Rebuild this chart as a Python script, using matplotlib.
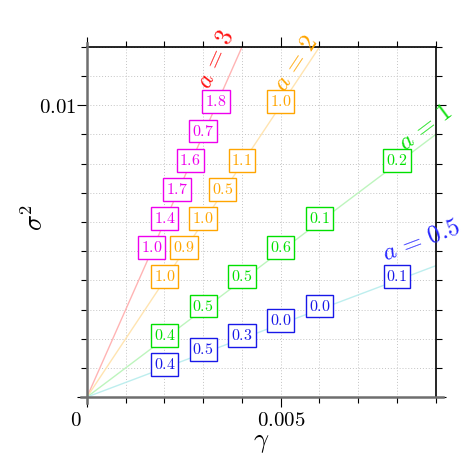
import numpy as np
import matplotlib
matplotlib.use("Agg")
import matplotlib.pyplot as plt
import matplotlib.transforms as mtransforms
from matplotlib.ticker import MultipleLocator, FixedLocator, FixedFormatter
from matplotlib.lines import Line2D

plt.rcParams['mathtext.fontset'] = 'cm'
plt.rcParams['font.family'] = ['DejaVu Serif']

# ---- data ----
a_values = [3, 2, 1, 0.5]
a_label_text = [r'$a\,=\,3$', r'$a\,=\,2$', r'$a\,=\,1$', r'$a\,=\,0.5$']
a_label_pos = [(3.31e-3, 11.58e-3), (5.40e-3, 11.44e-3), (8.73e-3, 9.24e-3), (8.63e-3, 5.36e-3)]

sigma2_a3 = [10e-3, 9e-3, 8e-3, 7e-3, 6e-3, 5e-3]
labels_a3 = ['1.8', '0.7', '1.6', '1.7', '1.4', '1.0']
sigma2_a2 = [10e-3, 8e-3, 7e-3, 6e-3, 5e-3, 4e-3]
labels_a2 = ['1.0', '1.1', '0.5', '1.0', '0.9', '1.0']
sigma2_a1 = [8e-3, 6e-3, 5e-3, 4e-3, 3e-3, 2e-3]
labels_a1 = ['0.2', '0.1', '0.6', '0.5', '0.5', '0.4']
sigma2_a05 = [4e-3, 3e-3, 2.5e-3, 2e-3, 1.5e-3, 1e-3]
labels_a05 = ['0.1', '0.0', '0.0', '0.3', '0.5', '0.4']

x_ticks = [0, 0.005]
x_ticklabels = ['$0$', '$0.005$']
y_ticks = [0, 0.01]
y_ticklabels = ['', '$0.01$']

# ---- style ----
line_colors = ['#ffb4b4', '#ffe4b0', '#bdf5bd', '#bdeeee']
label_colors = ['#ff1010', '#ffa500', '#10e010', '#2828ff']
box_colors = ['#ee00ee', '#ffa500', '#00e000', '#1818e8']

fig = plt.figure(figsize=(4.73, 4.73), dpi=100)
ax = fig.add_axes([87/473, 76/473, 348.7/473, 350/473])
xmax, ymax = 0.009, 0.012
ax.set_xlim(0, xmax)
ax.set_ylim(0, ymax)

# grid
ax.xaxis.set_minor_locator(MultipleLocator(0.001))
ax.yaxis.set_minor_locator(MultipleLocator(0.001))
ax.grid(True, which='both', color='#eeeeee', lw=0.9, ls='-', zorder=0)
ax.grid(True, which='both', color='#c4c4c4', lw=0.7, ls=(0, (1, 2)), zorder=0)

ax.xaxis.set_major_locator(FixedLocator(x_ticks))
ax.xaxis.set_major_formatter(FixedFormatter(x_ticklabels))
ax.yaxis.set_major_locator(FixedLocator(y_ticks))
ax.yaxis.set_major_formatter(FixedFormatter(y_ticklabels))
ax.tick_params(which='both', direction='out', top=True, right=True, labelsize=15)
ax.tick_params(axis='x', pad=3)
ax.tick_params(axis='y', pad=0.5)
ax.tick_params(which='major', length=7, width=0.8)
ax.tick_params(which='minor', length=4, width=0.8)

for s in ['left', 'bottom']:
    ax.spines[s].set_visible(False)
for s in ['top', 'right']:
    ax.spines[s].set_color('black')
    ax.spines[s].set_linewidth(1.2)
# gray axis lines extending slightly
ax.add_line(Line2D([-0.017, 1.02], [0, 0], transform=ax.transAxes, color='#6e6e6e', lw=1.8, clip_on=False, zorder=5))
ax.add_line(Line2D([0, 0], [-0.017, 1.012], transform=ax.transAxes, color='#6e6e6e', lw=1.8, clip_on=False, zorder=5))

ax.set_xlabel(r'$\gamma$', fontsize=19, labelpad=0)
ax.set_ylabel(r'$\sigma^2$', fontsize=19)
ax.yaxis.set_label_coords(-0.112, 0.514)

# lines
gx = np.array([0, xmax])
for a, c in zip(a_values, line_colors):
    ax.plot(gx, a * gx, color=c, lw=1.0, zorder=2)

fig.canvas.draw()
# shift the "0" x tick label to the left of the origin
for lbl in ax.get_xticklabels():
    if lbl.get_text() == '$0$':
        lbl.set_transform(lbl.get_transform() + mtransforms.ScaledTranslation(-11/100, 0, fig.dpi_scale_trans))

# rotation angles from display scale
bb = ax.get_window_extent()
ppx = bb.width / xmax
ppy = bb.height / ymax
for a, txt, pos, c in zip(a_values, a_label_text, a_label_pos, label_colors):
    ang = np.degrees(np.arctan(a * ppy / ppx))
    ax.text(pos[0], pos[1], txt, color=c, fontsize=18, rotation=ang,
            ha='center', va='center', rotation_mode='anchor', clip_on=False, zorder=6)

series = [(3, sigma2_a3, labels_a3), (2, sigma2_a2, labels_a2),
          (1, sigma2_a1, labels_a1), (0.5, sigma2_a05, labels_a05)]
for (a, s2, labs), bc in zip(series, box_colors):
    for yv, lab in zip(s2, labs):
        xv = yv / a
        ax.annotate('$' + lab + '$', (xv, yv), xytext=(0, 2.5), textcoords='offset points',
                    ha='center', va='center', fontsize=11.5, color=bc, zorder=7,
                    bbox=dict(boxstyle='square,pad=0.18', fc='white', ec=bc, lw=1.0))

fig.savefig('out.png', dpi=100)
